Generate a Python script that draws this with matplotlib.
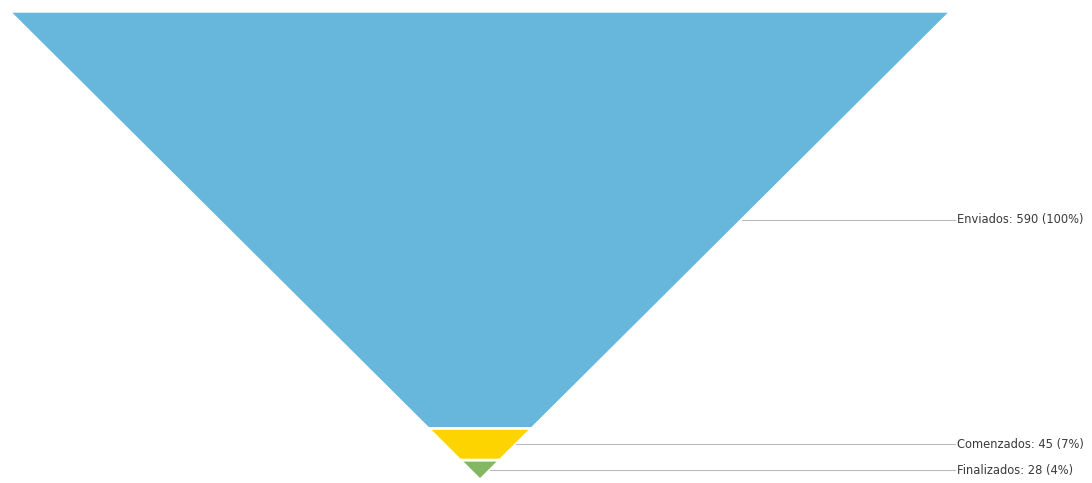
import matplotlib.pyplot as plt
from matplotlib.patches import Polygon

# Funnel data
stages = ['Enviados', 'Comenzados', 'Finalizados']
values = [590, 45, 28]
percents = [100, 7, 4]
colors = ['#67b6dc', '#fdd400', '#84b761']

total = sum(values)

fig = plt.figure(figsize=(10.92, 4.83), dpi=100)
ax = fig.add_axes([0, 0, 1, 1])
ax.set_xlim(-1.019, 1.299)
ax.set_ylim(-4.25, total + 16)
ax.axis('off')

# stage heights proportional to values, width shrinks linearly to apex
top = total
for name, v, p, c in zip(stages, values, percents, colors):
    bottom = top - v
    wt = top / total
    wb = bottom / total
    poly = Polygon([(-wt, top), (wt, top), (wb, bottom), (-wb, bottom)],
                   closed=True, facecolor=c, edgecolor='white', linewidth=2.0)
    ax.add_patch(poly)
    mid = (top + bottom) / 2
    ax.plot([mid / total, 1.0085], [mid, mid], color='#bbbbbb', lw=0.8)
    ax.text(1.0127, mid, f'{name}: {v} ({p}%)', fontsize=8.3, color='#3a3a3a',
            va='center', ha='left')
    top = bottom

fig.savefig('out.png', dpi=100)
